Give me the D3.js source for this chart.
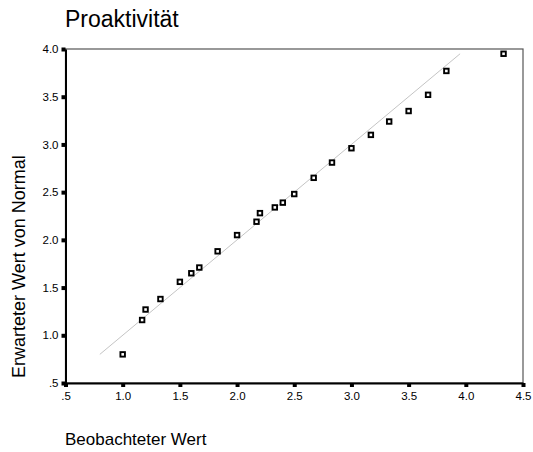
<!DOCTYPE html>
<html>
  <head>
    <meta charset="utf-8">
    <script src="https://d3js.org/d3.v7.min.js"></script>
    <style>
      body {
        margin: 0;
        background-color: white;
        font-family: Arial, "Liberation Sans", sans-serif;
      }
      svg { display: block; }
    </style>
  </head>
  <body>
    <div id="chart"></div>
    <script>
      // observed (x) vs expected normal value (y)
      var observed = [1.0, 1.17, 1.2, 1.33, 1.5, 1.6, 1.67, 1.83, 2.0, 2.17, 2.2, 2.33,
                      2.4, 2.5, 2.67, 2.83, 3.0, 3.17, 3.33, 3.5, 3.67, 3.83, 4.33];
      var expected = [0.80, 1.16, 1.27, 1.38, 1.56, 1.65, 1.71, 1.88, 2.05, 2.19, 2.28, 2.34,
                      2.39, 2.48, 2.65, 2.81, 2.96, 3.10, 3.24, 3.35, 3.52, 3.77, 3.95];
      var refLine = [0.8, 3.95];
      var xTicks = [0.5, 1.0, 1.5, 2.0, 2.5, 3.0, 3.5, 4.0, 4.5];
      var yTicks = [0.5, 1.0, 1.5, 2.0, 2.5, 3.0, 3.5, 4.0];
      var title = "Proaktivität";
      var xTitle = "Beobachteter Wert";
      var yTitle = "Erwarteter Wert von Normal";

      var W = 533, H = 452;
      var margin = {top: 49, right: 10, bottom: 69, left: 65.5};

      var x = d3.scaleLinear().domain([0.5, 4.5]).range([margin.left, W - margin.right]);
      var y = d3.scaleLinear().domain([0.5, 4.0]).range([H - margin.bottom, margin.top]);

      var fmt = function(d){ return d < 1 ? d3.format(".1f")(d).replace(/^0/, "") : d3.format(".1f")(d); };

      var svg = d3.select("#chart").append("svg")
        .attr("width", W)
        .attr("height", H);

      svg.append("text")
        .attr("x", 65)
        .attr("y", 27)
        .attr("font-size", "23px")
        .attr("fill", "#000")
        .text(title);

      // frame: top/right thin grey, left/bottom black
      svg.append("rect")
        .attr("x", x(0.5)).attr("y", y(4.0))
        .attr("width", x(4.5) - x(0.5))
        .attr("height", y(0.5) - y(4.0))
        .attr("fill", "none")
        .attr("stroke", "#555")
        .attr("stroke-width", 1.2);

      // reference line
      svg.append("line")
        .attr("x1", x(refLine[0])).attr("y1", y(refLine[0]))
        .attr("x2", x(refLine[1])).attr("y2", y(refLine[1]))
        .attr("stroke", "#c4c4c4")
        .attr("stroke-width", 1);

      // x axis
      var xAxis = svg.append("g")
        .attr("transform", "translate(0," + y(0.5) + ")")
        .call(d3.axisBottom(x).tickValues(xTicks).tickFormat(fmt).tickSize(0).tickPadding(9));
      xAxis.select(".domain").attr("stroke", "#000").attr("stroke-width", 2);
      xAxis.selectAll(".tick").append("rect")
        .attr("x", -2).attr("y", 0).attr("width", 4).attr("height", 4).attr("fill", "#000");
      xAxis.selectAll("text").attr("font-size", "11.5px").attr("font-family", "Arial, 'Liberation Sans', sans-serif").attr("fill", "#000");

      // y axis
      var yAxis = svg.append("g")
        .attr("transform", "translate(" + x(0.5) + ",0)")
        .call(d3.axisLeft(y).tickValues(yTicks).tickFormat(fmt).tickSize(0).tickPadding(7));
      yAxis.select(".domain").attr("stroke", "#000").attr("stroke-width", 2);
      yAxis.selectAll(".tick").append("rect")
        .attr("x", -4).attr("y", -2).attr("width", 4).attr("height", 4).attr("fill", "#000");
      yAxis.selectAll("text").attr("font-size", "11.5px").attr("font-family", "Arial, 'Liberation Sans', sans-serif").attr("fill", "#000");

      // points
      svg.append("g").selectAll("rect")
        .data(observed)
        .enter().append("rect")
          .attr("x", function(d){ return x(d) - 2.25; })
          .attr("y", function(d, i){ return y(expected[i]) - 2.25; })
          .attr("width", 4.5)
          .attr("height", 4.5)
          .attr("fill", "white")
          .attr("stroke", "#000")
          .attr("stroke-width", 1.9);

      // axis titles
      svg.append("text")
        .attr("x", 65)
        .attr("y", 445)
        .attr("font-size", "17px")
        .attr("fill", "#000")
        .text(xTitle);

      svg.append("text")
        .attr("transform", "translate(25,378) rotate(-90)")
        .attr("font-size", "18px")
        .attr("fill", "#000")
        .text(yTitle);
    </script>
  </body>
</html>
